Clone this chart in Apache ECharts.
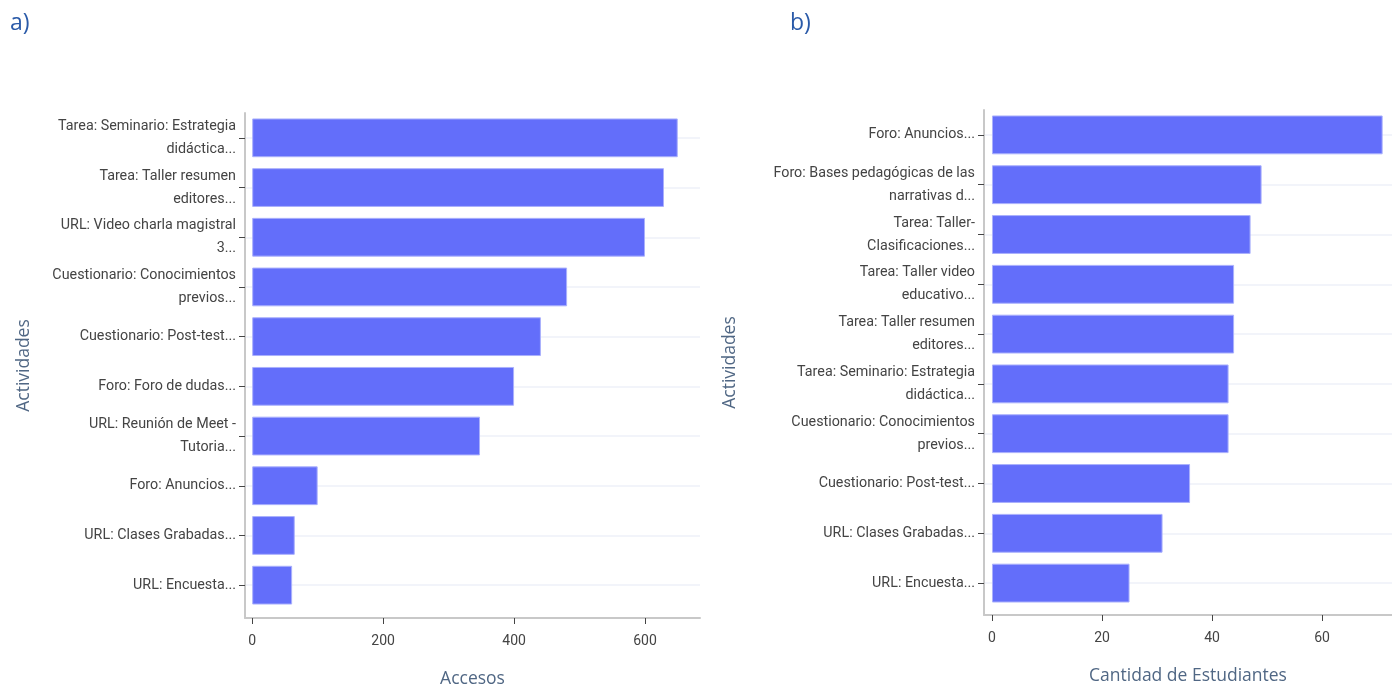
<!DOCTYPE html>
<html lang="es">
<head>
  <meta charset="UTF-8">
  <title>Actividades</title>
  <script src="https://cdn.jsdelivr.net/npm/echarts@6/dist/echarts.min.js"></script>
  <style>
    * { padding: 0; margin: 0; }
    body { background: #fff; }
    #main { width: 1392px; height: 686px; }
  </style>
</head>
<body>
<div id="main"></div>
<script>
  // a) accesos por actividad
  var catsA = [
    'Tarea: Seminario: Estrategia\ndidáctica...',
    'Tarea: Taller resumen\neditores...',
    'URL: Video charla magistral\n3...',
    'Cuestionario: Conocimientos\nprevios...',
    'Cuestionario: Post-test...',
    'Foro: Foro de dudas...',
    'URL: Reunión de Meet -\nTutoria...',
    'Foro: Anuncios...',
    'URL: Clases Grabadas...',
    'URL: Encuesta...'
  ];
  var valsA = [650, 629, 600, 481, 441, 400, 348, 100, 65, 61];
  var ticksA = [0, 200, 400, 600];

  // b) cantidad de estudiantes por actividad
  var catsB = [
    'Foro: Anuncios...',
    'Foro: Bases pedagógicas de las\nnarrativas d...',
    'Tarea: Taller-\nClasificaciones...',
    'Tarea: Taller video\neducativo...',
    'Tarea: Taller resumen\neditores...',
    'Tarea: Seminario: Estrategia\ndidáctica...',
    'Cuestionario: Conocimientos\nprevios...',
    'Cuestionario: Post-test...',
    'URL: Clases Grabadas...',
    'URL: Encuesta...'
  ];
  var valsB = [71, 49, 47, 44, 44, 43, 43, 36, 31, 25];
  var ticksB = [0, 20, 40, 60];

  var barColor = '#636efa';
  var font = 'Roboto, "Liberation Sans", Arial, sans-serif';
  var titleColor = '#506784';
  var lineColor = '#c8c8c8';

  // frame grid: axis lines, x ticks and titles
  function xAxisFrame(idx, min, max, ticks, name) {
    return {
      type: 'value',
      gridIndex: idx,
      min: min,
      max: max,
      name: name,
      nameLocation: 'middle',
      nameGap: 52,
      nameTextStyle: {color: titleColor, fontSize: 17.5, fontFamily: '"Open Sans", sans-serif'},
      axisLine: {show: true, onZero: false, lineStyle: {color: lineColor, width: 2}},
      axisTick: {show: true, length: 6, lineStyle: {color: '#444'}, customValues: ticks},
      axisLabel: {color: '#444', fontSize: 14, fontFamily: font, margin: 16, customValues: ticks},
      splitLine: {show: false}
    };
  }

  function yAxisFrame(idx, cats, gap) {
    return {
      type: 'category',
      gridIndex: idx,
      data: cats,
      inverse: true,
      name: 'Actividades',
      nameLocation: 'middle',
      nameRotate: 90,
      nameGap: gap,
      nameTextStyle: {color: titleColor, fontSize: 17.5, fontFamily: '"Open Sans", sans-serif'},
      axisLine: {show: true, onZero: false, lineStyle: {color: lineColor, width: 2}},
      axisTick: {show: false},
      axisLabel: {show: false},
      splitLine: {show: false}
    };
  }

  // bar grid: categories and bars
  function xAxisBars(idx, min, max) {
    return {type: 'value', gridIndex: idx, min: min, max: max, show: false};
  }

  function yAxisBars(idx, cats) {
    return {
      type: 'category',
      gridIndex: idx,
      data: cats,
      inverse: true,
      axisLine: {show: false, onZero: false},
      axisTick: {show: true, alignWithLabel: true, length: 6, lineStyle: {color: '#444'}},
      axisLabel: {color: '#444', fontSize: 14.3, fontFamily: font, lineHeight: 23, margin: 9, interval: 0},
      splitLine: {show: false}
    };
  }

  // faint horizontal grid lines at each category centre
  function gridLines(idx, cats) {
    return {
      type: 'line',
      xAxisIndex: idx,
      yAxisIndex: idx,
      data: [],
      silent: true,
      z: 0,
      markLine: {
        z: 0,
        symbol: ['none', 'none'],
        silent: true,
        label: {show: false},
        lineStyle: {color: '#eef1f8', width: 1.5, type: 'solid'},
        data: cats.map(function (c) { return {yAxis: c}; })
      }
    };
  }

  function barSeries(idx, vals) {
    return {
      type: 'bar',
      xAxisIndex: idx,
      yAxisIndex: idx,
      data: vals,
      barCategoryGap: '22%',
      z: 5,
      itemStyle: {color: barColor, borderColor: '#aab0fc', borderWidth: 1}
    };
  }

  var chart = echarts.init(document.getElementById('main'));
  chart.setOption({
    backgroundColor: '#fff',
    animation: false,
    graphic: [
      {type: 'text', left: 10, top: 12, style: {text: 'a)', fontSize: 23, fill: '#2a5aa8', fontFamily: '"Open Sans", sans-serif'}},
      {type: 'text', left: 790, top: 12, style: {text: 'b)', fontSize: 23, fill: '#2a5aa8', fontFamily: '"Open Sans", sans-serif'}}
    ],
    grid: [
      {left: 245, top: 113, width: 455, height: 505, outerBoundsMode: 'none'},
      {left: 245, top: 113, width: 455, height: 497, outerBoundsMode: 'none'},
      {left: 984, top: 110, width: 408, height: 505, outerBoundsMode: 'none'},
      {left: 984, top: 110, width: 408, height: 498, outerBoundsMode: 'none'}
    ],
    xAxis: [
      xAxisFrame(0, -11, 684, ticksA, 'Accesos'),
      xAxisBars(1, -11, 684),
      xAxisFrame(2, -1.45, 72.7, ticksB, 'Cantidad de Estudiantes'),
      xAxisBars(3, -1.45, 72.7)
    ],
    yAxis: [
      yAxisFrame(0, catsA, 212),
      yAxisBars(1, catsA),
      yAxisFrame(2, catsB, 245),
      yAxisBars(3, catsB)
    ],
    series: [
      gridLines(1, catsA),
      gridLines(3, catsB),
      barSeries(1, valsA),
      barSeries(3, valsB)
    ]
  });
</script>
</body>
</html>
